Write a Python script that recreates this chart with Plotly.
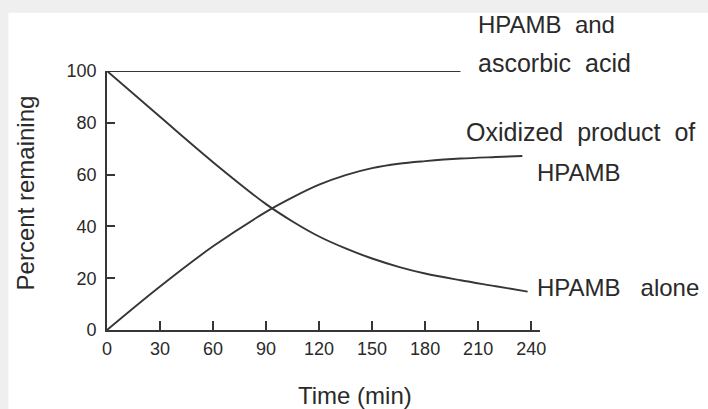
import plotly.graph_objects as go

# Data
t_ascorbic = [0, 200]
v_ascorbic = [100, 100]

t_alone = [0, 30, 60, 90, 105, 120, 135, 150, 165, 180, 200, 220, 238]
v_alone = [100, 82.3, 64.8, 48.6, 41.9, 36.1, 31.5, 27.6, 24.4, 21.8, 19.2, 16.9, 14.8]

t_oxid = [0, 30, 60, 90, 105, 120, 135, 150, 165, 180, 200, 220, 235]
v_oxid = [0, 16.8, 32.3, 45.6, 51.2, 56.1, 59.8, 62.5, 64.2, 65.2, 66.2, 66.8, 67.2]

x_ticks = [0, 30, 60, 90, 120, 150, 180, 210, 240]
y_ticks = [0, 20, 40, 60, 80, 100]

W, H = 708, 409
L, R, T, B = 106.7, 168, 70.5, 78.5
PW, PH = W - L - R, H - T - B

def px(x):
    return (x - L) / PW

def py(y):
    return (H - B - y) / PH

LINE = "#363636"
TXT = "#2a2a2a"
FONT = "Liberation Sans, Arial, Helvetica, sans-serif"

fig = go.Figure()
for tx, vy in [(t_ascorbic, v_ascorbic), (t_alone, v_alone), (t_oxid, v_oxid)]:
    fig.add_trace(go.Scatter(x=tx, y=vy, mode="lines",
                             line=dict(color=LINE, width=1.9, shape="spline", smoothing=1.0),
                             cliponaxis=False, showlegend=False, hoverinfo="skip"))

fig.update_layout(
    width=W, height=H,
    margin=dict(l=L, r=R, t=T, b=B, pad=0),
    paper_bgcolor="#efefef",
    plot_bgcolor="white",
    showlegend=False,
    font=dict(family=FONT, color=TXT),
    shapes=[dict(type="rect", xref="paper", yref="paper", x0=px(8), x1=px(720), y0=py(420), y1=py(12),
                 fillcolor="white", line=dict(width=0), layer="below")],
)

fig.update_xaxes(range=[0, 245], tickvals=x_ticks, ticktext=[str(v) for v in x_ticks],
                 ticks="inside", ticklen=9, tickwidth=1.5, tickcolor=LINE, ticklabelstandoff=1,
                 showline=True, linecolor=LINE, linewidth=1.8, showgrid=False, zeroline=False,
                 tickfont=dict(size=18, color=TXT, family=FONT))
fig.update_yaxes(range=[0, 100], tickvals=y_ticks, ticktext=[str(v) for v in y_ticks],
                 ticks="inside", ticklen=8, tickwidth=1.5, tickcolor=LINE, ticklabelstandoff=5,
                 showline=True, linecolor=LINE, linewidth=1.8, showgrid=False, zeroline=False,
                 tickfont=dict(size=18, color=TXT, family=FONT))

ann = [
    ("HPAMB\u00a0 and", 476, 24, "left", 0, 24),
    ("ascorbic\u00a0 acid", 476, 62, "left", 0, 25),
    ("Oxidized\u00a0 product\u00a0 of", 464, 132, "left", 0, 25),
    ("HPAMB", 535, 172, "left", 0, 24),
    ("HPAMB\u00a0\u00a0 alone", 535, 288, "left", 0, 24),
    ("Time (min)", 354.5, 396, "center", 0, 24),
    ("Percent remaining", 25, 193, "center", -90, 24),
]
for text, x, y, xa, ang, fs in ann:
    fig.add_annotation(text=text, xref="paper", yref="paper", x=px(x), y=py(y),
                       xanchor=xa, yanchor="middle", showarrow=False, textangle=ang,
                       font=dict(size=fs, color=TXT, family=FONT))

fig.write_html("out.html", config={"displayModeBar": False},
               post_script="document.body.style.margin='0';document.body.style.padding='0';"
                           "document.body.style.background='#efefef';")
